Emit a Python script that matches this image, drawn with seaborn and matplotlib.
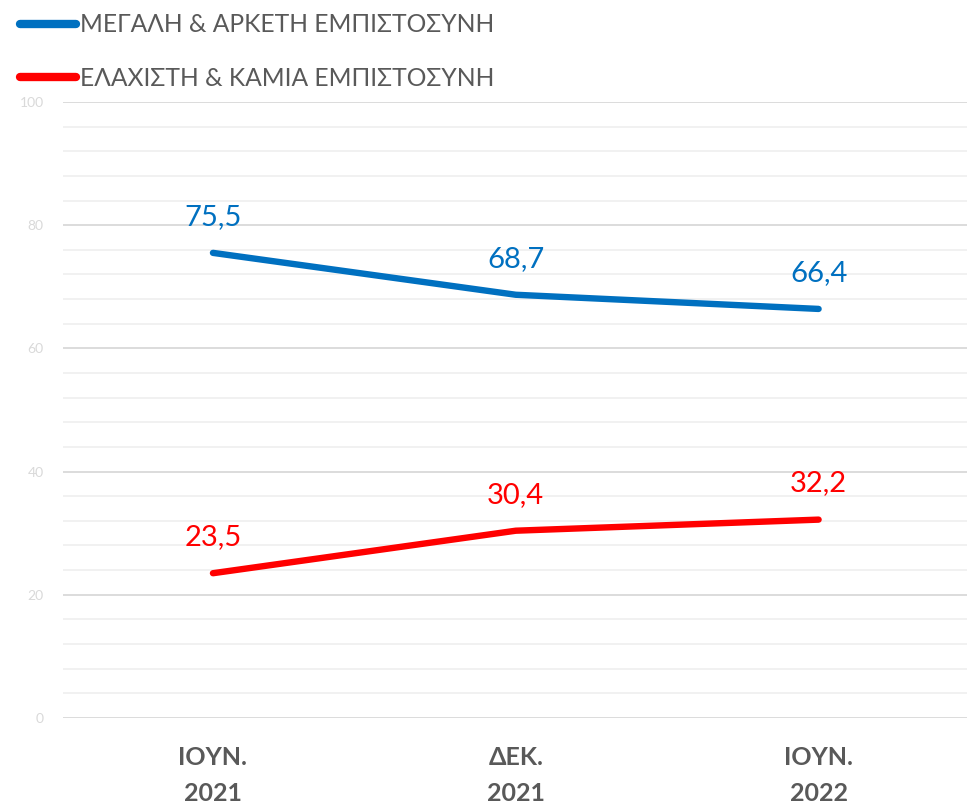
import matplotlib
matplotlib.use("Agg")
import matplotlib.pyplot as plt
import matplotlib.ticker as mticker
import seaborn as sns
import pandas as pd

periods = ["ΙΟΥΝ.\n2021", "ΔΕΚ.\n2021", "ΙΟΥΝ.\n2022"]
high_trust = [75.5, 68.7, 66.4]
low_trust = [23.5, 30.4, 32.2]
series_names = ["ΜΕΓΑΛΗ & ΑΡΚΕΤΗ ΕΜΠΙΣΤΟΣΥΝΗ", "ΕΛΑΧΙΣΤΗ & ΚΑΜΙΑ ΕΜΠΙΣΤΟΣΥΝΗ"]
colors = ["#0070C0", "#FF0000"]

sns.set_theme(style="white")
plt.rcParams["font.family"] = ["Lato", "Open Sans", "DejaVu Sans"]

rows = []
for name, vals in zip(series_names, [high_trust, low_trust]):
    for i, v in enumerate(vals):
        rows.append({"pos": i, "value": v, "series": name})
df = pd.DataFrame(rows)

fig = plt.figure(figsize=(9.67, 8.09), dpi=100)
ax = fig.add_axes([0.0652, 0.1125, 0.9348, 0.7615])

sns.lineplot(data=df, x="pos", y="value", hue="series", palette=colors,
             hue_order=series_names, linewidth=4.6, ax=ax, legend=True,
             solid_capstyle="round")

ax.set_ylim(0, 100)
ax.set_xlim(-0.495, 2.49)
ax.yaxis.set_major_locator(mticker.MultipleLocator(20))
ax.yaxis.set_minor_locator(mticker.MultipleLocator(4))
ax.grid(True, which="major", axis="y", color="#D9D9D9", linewidth=1.3)
ax.grid(True, which="minor", axis="y", color="#F0F0F0", linewidth=1.3)
ax.set_axisbelow(True)
for s in ax.spines.values():
    s.set_visible(False)

ax.set_xticks(range(len(periods)))
ax.set_xticklabels(periods, fontsize=18, fontweight="bold", color="#595959",
                   linespacing=1.72)
ax.tick_params(axis="x", length=0, pad=20)
ax.tick_params(axis="y", which="both", length=0, pad=14, labelsize=10,
               labelcolor="#D9D9D9")
ax.set_xlabel("")
ax.set_ylabel("")

for vals, c in zip([high_trust, low_trust], colors):
    for i, v in enumerate(vals):
        ax.annotate(f"{v:.1f}".replace(".", ","), (i, v), xytext=(0, 26),
                    textcoords="offset points", ha="center", va="center",
                    fontsize=21, color=c)

leg = ax.legend(loc="upper left", bbox_to_anchor=(-0.059, 1.16),
                frameon=False, fontsize=17.7, labelcolor="#595959",
                handlelength=2.3, handletextpad=0.17, labelspacing=1.25,
                borderaxespad=0)
for h in leg.get_lines():
    h.set_linewidth(6)
    h.set_solid_capstyle("round")

fig.savefig("out.png", dpi=100)
